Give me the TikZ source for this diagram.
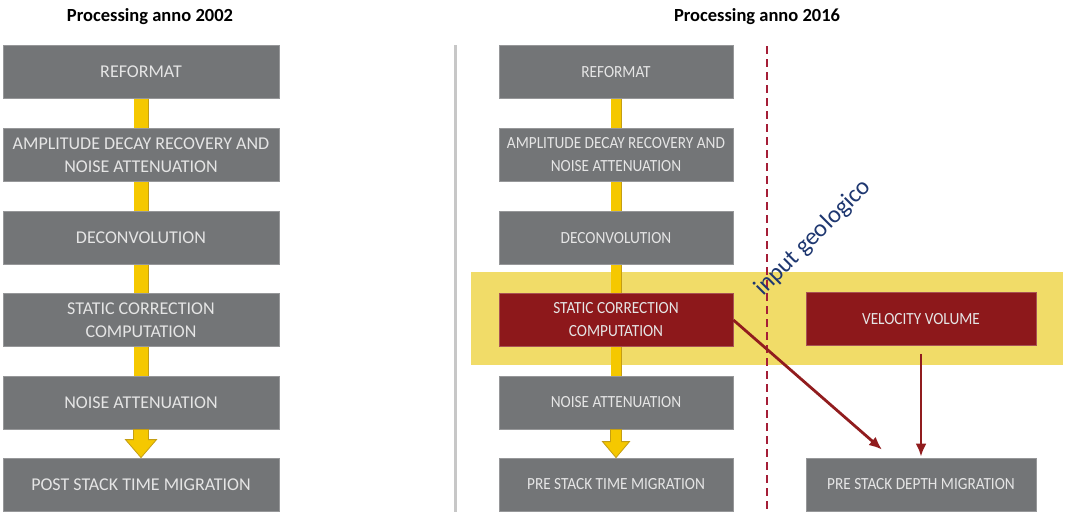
\documentclass[tikz,border=0pt]{standalone}
\usepackage{fontspec}
\setmainfont{Carlito}
\newfontfamily\narrowfont[FakeStretch=0.9]{Carlito}
\usetikzlibrary{arrows.meta,backgrounds}

\definecolor{boxgray}{RGB}{115,117,119}
\definecolor{boxred}{RGB}{141,24,27}
\definecolor{bandyellow}{RGB}{241,220,104}
\definecolor{pipefill}{RGB}{245,200,0}
\definecolor{pipeedge}{RGB}{196,158,20}
\definecolor{linkred}{RGB}{145,28,30}
\definecolor{cutred}{RGB}{165,30,55}
\definecolor{geoblue}{RGB}{30,55,112}

\begin{document}
\begin{tikzpicture}[x=1pt, y=-1pt,
    stage/.style={fill=boxgray, draw=boxgray!75!white, line width=0.8pt,
        text=white!90!black, minimum height=53pt, align=center, inner sep=0pt},
    oldstage/.style={stage, minimum width=276pt, font=\fontsize{18}{23}\selectfont},
    newstage/.style={stage, minimum width=234pt, font=\narrowfont\fontsize{17}{23}\selectfont},
    hot/.style={fill=boxred, draw=boxred!75!white},
    pipe/.style={draw=pipeedge, line width=0.8pt, double=pipefill, double distance=#1},
    link/.style={draw=linkred, line width=2.8pt, -{Latex[length=13pt,width=11pt]}},
    title/.style={font=\bfseries\fontsize{18.5}{20}\selectfont}]
    \useasboundingbox (0,0) rectangle (1065,512);

    % headings
    \node[title] (t02) at (150,17) {Processing anno 2002};
    \node[title] (t16) at (757,17) {Processing anno 2016};

    % 2002 flow
    \node[oldstage] (old1) at (141,72) {REFORMAT};
    \node[oldstage] (old2) at (141,155) {AMPLITUDE DECAY RECOVERY AND\\NOISE ATTENUATION};
    \node[oldstage] (old3) at (141,238) {DECONVOLUTION};
    \node[oldstage] (old4) at (141,320) {STATIC CORRECTION\\COMPUTATION};
    \node[oldstage] (old5) at (141,402.5) {NOISE ATTENUATION};
    \node[oldstage] (old6) at (141,484.5) {POST STACK TIME MIGRATION};

    % 2016 flow
    \node[newstage] (new1) at (616,72) {REFORMAT};
    \node[newstage] (new2) at (616,155) {AMPLITUDE DECAY RECOVERY AND\\NOISE ATTENUATION};
    \node[newstage] (new3) at (616,238) {DECONVOLUTION};
    \node[newstage, hot] (new4) at (616,320) {STATIC CORRECTION\\COMPUTATION};
    \node[newstage] (new5) at (616,402.5) {NOISE ATTENUATION};
    \node[newstage] (new6) at (616,484.5) {PRE STACK TIME MIGRATION};
    \node[newstage, hot, minimum width=230pt] (vel) at (921,319) {VELOCITY VOLUME};
    \node[newstage, minimum width=230pt] (pdm) at (921,484.5) {PRE STACK DEPTH MIGRATION};

    \begin{scope}[on background layer]
        \fill[bandyellow] (471,272) rectangle (1063,365);
        \draw[pipe=13.4pt] (old1) -- (old2);
        \draw[pipe=13.4pt] (old2) -- (old3);
        \draw[pipe=13.4pt] (old3) -- (old4);
        \draw[pipe=13.4pt] (old4) -- (old5);
        \draw[pipe=9.4pt] (new1) -- (new2);
        \draw[pipe=9.4pt] (new2) -- (new3);
        \draw[pipe=9.4pt] (new3) -- (new4);
        \draw[pipe=9.4pt] (new4) -- (new5);
    \end{scope}

    % last step as a block arrow
    \filldraw[fill=pipefill, draw=pipeedge, line width=0.8pt]
        ([xshift=-7.5pt]old5.south) -- ([xshift=-7.5pt,yshift=18pt]old6.north)
        -- ([xshift=-15.5pt,yshift=18pt]old6.north) -- (old6.north)
        -- ([xshift=15.5pt,yshift=18pt]old6.north) -- ([xshift=7.5pt,yshift=18pt]old6.north)
        -- ([xshift=7.5pt]old5.south) -- cycle;
    \filldraw[fill=pipefill, draw=pipeedge, line width=0.8pt]
        ([xshift=-5.5pt]new5.south) -- ([xshift=-5.5pt,yshift=16pt]new6.north)
        -- ([xshift=-13.5pt,yshift=16pt]new6.north) -- (new6.north)
        -- ([xshift=13.5pt,yshift=16pt]new6.north) -- ([xshift=5.5pt,yshift=16pt]new6.north)
        -- ([xshift=5.5pt]new5.south) -- cycle;

    % separators
    \coordinate (sepTop) at (455,45);
    \coordinate (sepBot) at (455,512);
    \draw[black!22, line width=3pt] (sepTop) -- (sepBot);
    \coordinate (cutTop) at (767,46);
    \coordinate (cutBot) at (767,512);
    \draw[cutred, line width=1.8pt, dash pattern=on 8pt off 5pt] (cutTop) -- (cutBot);

    \node[text=geoblue, rotate=45, font=\fontsize{24.5}{26}\selectfont] (geo) at (813,238) {input geologico};

    % depth branch
    \draw[link] (new4.east) -- ([xshift=-39pt,yshift=8pt]pdm.north);
    \draw[link] ([yshift=-8pt]vel.south) -- ([yshift=1pt]pdm.north);
\end{tikzpicture}
\end{document}
